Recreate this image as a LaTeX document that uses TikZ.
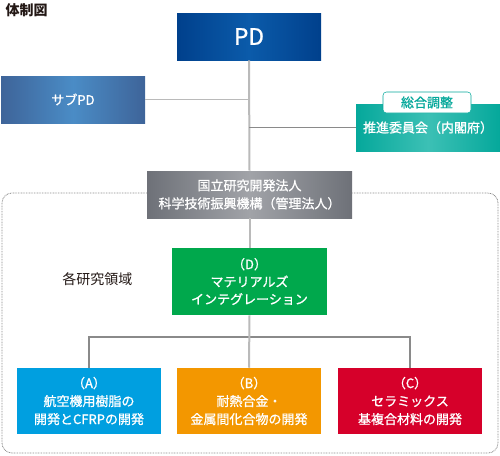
\documentclass[tikz,border=0pt]{standalone}
\usepackage{fontspec}
\setmainfont{Noto Sans CJK JP}
\newfontfamily\boxfont{Noto Sans CJK JP}[FakeBold=1]
\definecolor{pdblue}{HTML}{00408C}
\definecolor{pdmid}{HTML}{0B5BAA}
\definecolor{subblue}{HTML}{3E6499}
\definecolor{submid}{HTML}{4A8CC6}
\definecolor{suishin}{HTML}{05A89B}
\definecolor{suishinmid}{HTML}{3CC0B5}
\definecolor{jstgray}{HTML}{6E7178}
\definecolor{jstmid}{HTML}{A1A3A8}
\definecolor{areaD}{HTML}{00A84C}
\definecolor{areaA}{HTML}{009FE0}
\definecolor{areaB}{HTML}{F39700}
\definecolor{areaC}{HTML}{D6002A}
\definecolor{ink}{HTML}{231815}
\definecolor{linegray}{HTML}{BABABA}
\definecolor{wiregray}{HTML}{8A8A8A}
\begin{document}
\begin{tikzpicture}[x=0.75pt,y=-0.75pt,
  box/.style={minimum width=108pt, minimum height=35.25pt, inner sep=0pt, text=white,
    align=center, font=\boxfont\fontsize{9.75pt}{13.5pt}\selectfont},
  trunk/.style={draw=linegray, line width=1.5pt},
  wire/.style={draw=wiregray, line width=0.8pt}]
  \useasboundingbox (0,0) rectangle (500,455);
  % research area frame
  \draw[wiregray, line width=0.6pt, dash pattern=on 0.6pt off 0.6pt, rounded corners=7.5pt]
    (2,193) rectangle (498,453);
  \node[anchor=west, text=ink, font=\bfseries\fontsize{10.5pt}{12pt}\selectfont] (title) at (1,10) {体制図};
  % top of the structure
  \node[box, left color=pdblue, right color=pdblue, middle color=pdmid,
    font=\boxfont\fontsize{17pt}{20pt}\selectfont] (pd) at (249,36.5) {PD};
  \node[box, left color=subblue, right color=subblue, middle color=submid] (subpd) at (73,99.5) {サブPD};
  \node[box, left color=suishin, right color=suishin, middle color=suishinmid] (council) at (428,127.5) {推進委員会（内閣府）};
  \node[draw=suishin, fill=white, rounded corners=2.5pt, minimum width=66pt, minimum height=15.75pt,
    inner sep=0pt, text=suishin, font=\boxfont\fontsize{9.75pt}{12pt}\selectfont] (tag) at (427,102.5) {総合調整};
  \node[box, minimum width=153.75pt, left color=jstgray, right color=jstgray, middle color=jstmid] (jst)
    at (249.5,194.5) {国立研究開発法人\\科学技術振興機構（管理法人）};
  % research areas
  \node[box, minimum width=116.25pt, minimum height=50.25pt, fill=areaD,
    font=\boxfont\fontsize{9.75pt}{13.1pt}\selectfont] (areaD) at (249.5,281.5) {（D）\\マテリアルズ\\インテグレーション};
  \node[text=ink, font=\fontsize{10.5pt}{12pt}\selectfont] (areas) at (97.5,279) {各研究領域};
  \node[box, minimum height=49.5pt, fill=areaA] (areaA) at (89,401) {（A）\\航空機用樹脂の\\開発とCFRPの開発};
  \node[box, minimum height=49.5pt, fill=areaB] (areaB) at (249,401) {（B）\\耐熱合金・\\金属間化合物の開発};
  \node[box, minimum height=49.5pt, fill=areaC] (areaC) at (410,401) {（C）\\セラミックス\\基複合材料の開発};
  \coordinate (bus) at (249,337);
  % connectors
  \draw[trunk] (pd.south) -- (jst.north);
  \draw[trunk, line width=1.2pt] (subpd.east) -- (subpd.east -| pd.south);
  \draw[wire] (council.west) -- (council.west -| pd.south);
  \draw[trunk] (jst.south) -- (areaD.north);
  \draw[wire] (areaA.north) |- (bus) -| (areaC.north);
  \draw[trunk] (areaD.south) -- (areaB.north);
\end{tikzpicture}
\end{document}
